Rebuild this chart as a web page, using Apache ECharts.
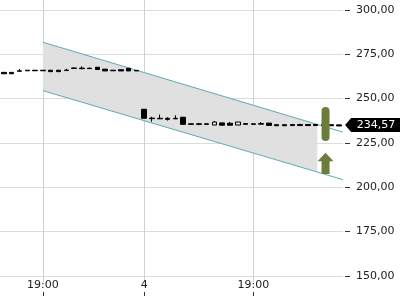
<!DOCTYPE html>
<html><head><meta charset="utf-8">
<script src="https://cdn.jsdelivr.net/npm/echarts@6/dist/echarts.min.js"></script>
<style>html,body{margin:0;padding:0;background:#fff}#c{width:400px;height:300px}</style>
</head><body><div id="c"></div>
<script>
// ---- data ----
const categories = ['s0','s1','s2','s3','s4','s5','s6','s7','s8','s9','s10','s11','s12','s13','s14','s15','s16','s17','s18','s19','s20','s21','s22','s23','s24','s25','s26','s27','s28','s29','s30','s31','s32','s33','s34','s35','s36','s37','s38','s39','s40','s41','s42','s43'];
const opens  = [264.8,264.8,265.4,266.0,266.0,266.0,266.0,266.0,265.8,267.3,267.2,267.2,267.7,266.6,266.0,266.3,267.1,265.9,244.0,239.0,238.9,238.9,238.9,239.5,235.8,235.8,235.8,235.1,236.3,236.1,235.1,235.9,235.8,235.9,236.2,235.3,235.3,235.4,235.4,235.4,235.4,235.5,235.3,235.2];
const closes = [264.0,264.0,265.7,265.7,265.7,265.7,265.2,265.2,266.1,267.0,266.9,266.9,266.4,265.6,265.7,265.6,265.6,265.6,238.9,238.7,238.6,238.3,238.6,235.5,235.5,235.5,235.5,236.8,235.0,235.0,236.8,235.5,235.5,235.6,234.9,234.7,234.7,234.8,234.8,234.8,234.8,234.9,234.7,234.57];
const lows   = [264.0,264.0,265.4,265.7,265.7,265.7,265.2,265.2,265.8,267.0,266.5,266.9,266.4,265.6,265.7,265.6,265.6,265.6,238.9,237.0,238.6,237.6,238.6,235.5,235.5,235.0,235.5,235.1,235.0,235.0,235.1,235.5,235.5,235.6,234.9,234.7,234.7,234.8,234.8,234.8,234.8,234.2,234.7,234.57];
const highs  = [264.8,264.8,266.6,266.0,266.0,266.0,266.0,266.0,266.8,267.3,268.2,267.2,267.7,266.6,266.0,266.3,267.1,265.9,244.0,239.8,241.0,239.5,240.6,239.5,235.8,236.3,235.8,237.4,236.3,236.8,236.8,235.9,235.8,236.8,236.2,235.3,235.3,235.4,235.8,235.4,235.4,236.6,235.3,235.2];
const lastPrice = 234.57;

const xTickIndex  = [5, 18, 32];
const xTickLabels = ['19:00', '4', '19:00'];
const yTicks = [150, 175, 200, 225, 250, 275, 300];

// trend channel (x in slot units)
const chanX     = [5, 43.5];
const chanUpper = [281.8, 231.1];
const chanLower = [254.5, 204.3];
const fillX     = [5, 40.2];
const fillUpper = [281.8, 235.5];
const fillLower = [254.5, 208.7];

// signal markers
const signalBar   = [41.26, 226.1, 245.2];  // x, low, high
const signalArrow = [41.26, 207.5, 219.5];  // x, bottom, tip

// ---- chart ----
const fmt = v => v.toFixed(2).replace('.', ',');
const font = {fontFamily: 'DejaVu Sans', fontSize: 11, color: '#222'};
const candleData = opens.map((o, i) => [o, closes[i], lows[i], highs[i]]);
const green = '#6b7c3b';

const chart = echarts.init(document.getElementById('c'));
chart.setOption({
  animation: false,
  grid: {left: 0, right: 57, top: 0, bottom: 18, outerBoundsMode: 'none'},
  xAxis: [
    {type: 'category', data: categories, boundaryGap: true, show: false},
    {type: 'value', min: -0.5, max: 43.5, position: 'bottom', offset: 10,
     axisLine: {show: false, onZero: false},
     axisTick: {show: true, length: 4, lineStyle: {color: '#333'}, customValues: xTickIndex},
     axisLabel: Object.assign({customValues: xTickIndex, margin: -12,
       formatter: v => { const k = xTickIndex.indexOf(Math.round(v)); return k >= 0 ? xTickLabels[k] : ''; }}, font),
     splitLine: {show: true, lineStyle: {color: '#d2d2d2'}}}
  ],
  yAxis: {type: 'value', position: 'right', min: 146.6, max: 305.6, offset: 2,
    axisLine: {show: false, onZero: false},
    axisTick: {show: true, length: 5, lineStyle: {color: '#333'}, customValues: yTicks},
    axisLabel: Object.assign({customValues: yTicks, margin: 11, formatter: v => fmt(v)}, font),
    splitLine: {show: true, lineStyle: {color: '#dcdcdc'}}},
  series: [
    {type: 'custom', xAxisIndex: 1, silent: true, z: 1,
     data: [[fillX[0], fillUpper[0], fillX[1], fillUpper[1], fillLower[1], fillLower[0]]],
     renderItem: (p, api) => ({type: 'polygon', shape: {points: [
        api.coord([api.value(0), api.value(1)]),
        api.coord([api.value(2), api.value(3)]),
        api.coord([api.value(2), api.value(4)]),
        api.coord([api.value(0), api.value(5)])]},
        style: {fill: '#e0e0e0'}})},
    {type: 'line', xAxisIndex: 1, silent: true, z: 2, symbol: 'none',
     lineStyle: {color: '#62a8b2', width: 1}, data: chanX.map((x, i) => [x, chanUpper[i]])},
    {type: 'line', xAxisIndex: 1, silent: true, z: 2, symbol: 'none',
     lineStyle: {color: '#62a8b2', width: 1}, data: chanX.map((x, i) => [x, chanLower[i]])},
    {type: 'candlestick', xAxisIndex: 0, z: 3, barWidth: 5,
     itemStyle: {color: 'rgba(0,0,0,0)', color0: '#000', borderColor: '#000', borderColor0: '#000', borderColorDoji: '#000', borderWidth: 1},
     data: candleData,
     markPoint: {
       symbol: 'path://M0,7L6,0L56,0L56,14L6,14Z', symbolSize: [56, 14], symbolOffset: [34, -1],
       itemStyle: {color: '#000'},
       label: {show: true, position: 'inside', offset: [3, 0], color: '#fff', fontFamily: 'DejaVu Sans', fontSize: 11, formatter: () => fmt(lastPrice)},
       data: [{coord: [categories.length - 1, lastPrice], value: lastPrice}]
     }},
    {type: 'custom', xAxisIndex: 1, silent: true, z: 4,
     data: [signalBar],
     renderItem: (p, api) => {
       const a = api.coord([api.value(0), api.value(2)]);
       const b = api.coord([api.value(0), api.value(1)]);
       return {type: 'rect', shape: {x: a[0] - 4, y: a[1], width: 8, height: b[1] - a[1], r: 4}, style: {fill: green}};
     }},
    {type: 'custom', xAxisIndex: 1, silent: true, z: 4,
     data: [signalArrow],
     renderItem: (p, api) => {
       const t = api.coord([api.value(0), api.value(2)]);
       const b = api.coord([api.value(0), api.value(1)]);
       const cx = t[0], hb = t[1] + 8.5;
       return {type: 'polygon', shape: {points: [[cx, t[1]], [cx + 8, hb], [cx + 4, hb], [cx + 4, b[1]], [cx - 4, b[1]], [cx - 4, hb], [cx - 8, hb]]}, style: {fill: green}};
     }}
  ]
});
</script>
</body></html>
